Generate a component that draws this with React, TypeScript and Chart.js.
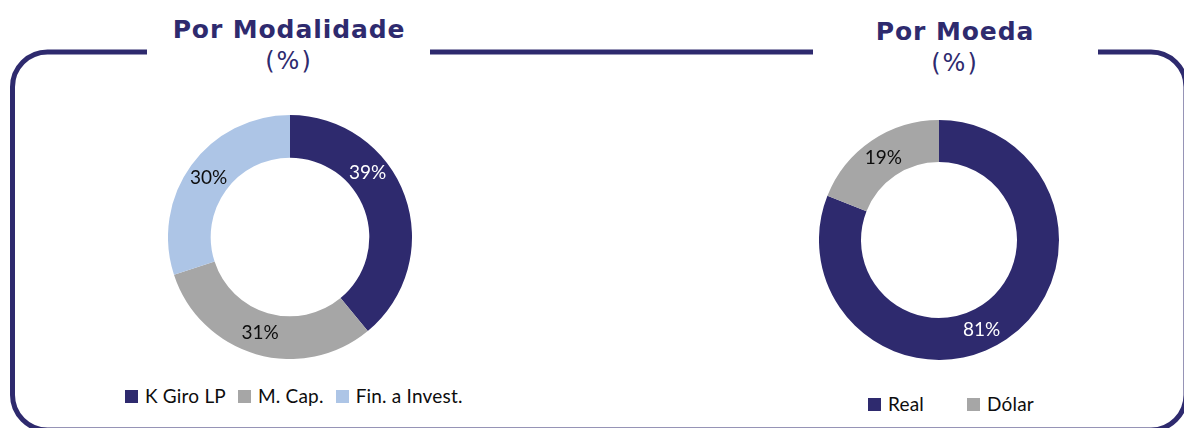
import React, { useEffect, useRef } from 'react';
import { Chart, registerables } from 'chart.js';

Chart.register(...registerables);

// ---- data ----
const modalidadeLabels = ['K Giro LP', 'M. Cap.', 'Fin. a Invest.'];
const modalidadeValues = [39, 31, 30];
const moedaLabels = ['Real', 'Dólar'];
const moedaValues = [81, 19];

const titleLeft = 'Por Modalidade';
const titleRight = 'Por Moeda';
const subtitle = '(%)';

// ---- styles ----
const NAVY = '#2E2A6E';
const GRAY = '#A6A6A6';
const LIGHT = '#ADC5E6';
const modalidadeColors = [NAVY, GRAY, LIGHT];
const moedaColors = [NAVY, GRAY];
const modalidadeLabelColors = ['#FFFFFF', '#0D0D0D', '#0D0D0D'];
const moedaLabelColors = ['#FFFFFF', '#0D0D0D'];
const modalidadeLabelFrac = [0.36, 0.51, 0.5];
const moedaLabelFrac = [0.53, 0.5];

const TEXT_FONT = 'Lato, "Open Sans", sans-serif';
const TITLE_FONT = '"DejaVu Sans", Verdana, sans-serif';

const sliceLabels = {
  id: 'sliceLabels',
  afterDatasetsDraw(chart: any, _args: any, opts: any) {
    const meta = chart.getDatasetMeta(0);
    const ds = chart.data.datasets[0];
    const ctx = chart.ctx;
    ctx.save();
    ctx.font = `${opts.size}px ${TEXT_FONT}`;
    ctx.textAlign = 'center';
    ctx.textBaseline = 'middle';
    meta.data.forEach((arc: any, i: number) => {
      const p = arc.getProps(['x', 'y', 'startAngle', 'endAngle', 'innerRadius', 'outerRadius'], true);
      const a = p.startAngle + (p.endAngle - p.startAngle) * opts.fractions[i];
      const r = (p.innerRadius + p.outerRadius) / 2;
      ctx.fillStyle = opts.colors[i];
      ctx.fillText(`${ds.data[i]}%`, p.x + Math.cos(a) * r, p.y + Math.sin(a) * r);
    });
    ctx.restore();
  },
};

function Donut(props: {
  labels: string[];
  values: number[];
  colors: string[];
  labelColors: string[];
  fractions: number[];
  size: number;
  left: number;
  top: number;
}) {
  const ref = useRef<HTMLCanvasElement | null>(null);
  useEffect(() => {
    if (!ref.current) return;
    const chart = new Chart(ref.current, {
      type: 'doughnut',
      data: {
        labels: props.labels,
        datasets: [
          {
            data: props.values,
            backgroundColor: props.colors,
            borderWidth: 0,
            hoverOffset: 0,
            offset: 0,
          },
        ],
      },
      options: {
        responsive: false,
        animation: false,
        cutout: '65%',
        layout: { padding: 0 },
        events: [],
        plugins: {
          legend: { display: false },
          tooltip: { enabled: false },
          sliceLabels: { size: 19, colors: props.labelColors, fractions: props.fractions },
        } as any,
      },
      plugins: [sliceLabels],
    });
    return () => chart.destroy();
  }, []);
  return (
    <canvas
      ref={ref}
      width={props.size}
      height={props.size}
      style={{ position: 'absolute', left: props.left, top: props.top, width: props.size, height: props.size }}
    />
  );
}

function Legend(props: { labels: string[]; colors: string[]; left: number; top: number; gap: number }) {
  return (
    <div
      style={{
        position: 'absolute',
        left: props.left,
        top: props.top,
        display: 'flex',
        alignItems: 'center',
        gap: props.gap,
        fontFamily: TEXT_FONT,
        fontSize: 19,
        lineHeight: '20px',
        color: '#0D0D0D',
        whiteSpace: 'nowrap',
      }}
    >
      {props.labels.map((l, i) => (
        <div key={l} style={{ display: 'flex', alignItems: 'center', gap: 7 }}>
          <span style={{ display: 'inline-block', width: 13, height: 13, background: props.colors[i] }} />
          <span style={{ letterSpacing: 0.2 }}>{l}</span>
        </div>
      ))}
    </div>
  );
}

function Title(props: { text: string; sub: string; cx: number; top: number; subTop: number }) {
  const base: React.CSSProperties = {
    position: 'absolute',
    left: props.cx - 200,
    width: 400,
    textAlign: 'center',
    color: NAVY,
    fontFamily: TITLE_FONT,
    lineHeight: '30px',
    whiteSpace: 'nowrap',
  };
  return (
    <>
      <div style={{ ...base, top: props.top, fontSize: 25, fontWeight: 'bold', letterSpacing: 0.9 }}>{props.text}</div>
      <div style={{ ...base, top: props.subTop, fontSize: 24, fontWeight: 'normal', letterSpacing: 2 }}>{props.sub}</div>
    </>
  );
}

export default function App() {
  const L = 12.5, R = 1186, T = 52, B = 430, r = 35;
  const framePath =
    `M 147 ${T} L ${L + r} ${T} A ${r} ${r} 0 0 0 ${L} ${T + r} L ${L} ${B - r} A ${r} ${r} 0 0 0 ${L + r} ${B} ` +
    `L ${R - r} ${B} A ${r} ${r} 0 0 0 ${R} ${B - r} L ${R} ${T + r} A ${r} ${r} 0 0 0 ${R - r} ${T} L 1098 ${T} ` +
    `M 430 ${T} L 813 ${T}`;
  return (
    <div
      style={{
        position: 'fixed',
        left: 0,
        top: 0,
        width: 1184,
        height: 428,
        overflow: 'hidden',
        background: '#FFFFFF',
      }}
    >
      <svg width={1184} height={428} style={{ position: 'absolute', left: 0, top: 0 }}>
        <path d={framePath} fill="none" stroke={NAVY} strokeWidth={5} />
      </svg>
      <Title text={titleLeft} sub={subtitle} cx={289} top={15} subTop={46} />
      <Title text={titleRight} sub={subtitle} cx={955} top={17} subTop={48} />
      <Donut
        labels={modalidadeLabels}
        values={modalidadeValues}
        colors={modalidadeColors}
        labelColors={modalidadeLabelColors}
        fractions={modalidadeLabelFrac}
        size={244}
        left={168}
        top={115}
      />
      <Donut
        labels={moedaLabels}
        values={moedaValues}
        colors={moedaColors}
        labelColors={moedaLabelColors}
        fractions={moedaLabelFrac}
        size={240}
        left={819}
        top={120}
      />
      <Legend labels={modalidadeLabels} colors={modalidadeColors} left={125} top={386} gap={12} />
      <Legend labels={moedaLabels} colors={moedaColors} left={868} top={394} gap={43} />
    </div>
  );
}
